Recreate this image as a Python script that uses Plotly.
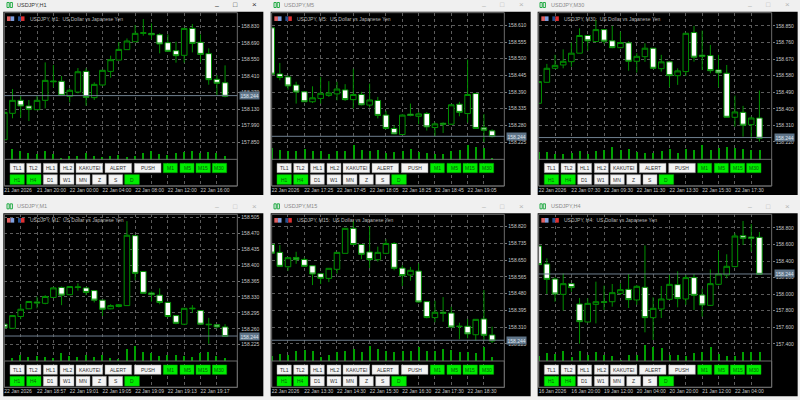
import plotly.graph_objects as go

BID = 158.244

# ---------- data ----------
H1_OPEN = [157.871,158.094,158.204,158.156,158.125,158.204,158.368,158.365,158.238,158.274,158.449,158.227,158.334,158.449,158.545,158.633,158.700,158.771,158.771,158.759,158.692,158.624,158.585,158.813,158.695,158.599,158.382,158.353]
H1_HIGH = [158.102,158.300,158.249,158.207,158.241,158.525,158.503,158.410,158.305,158.477,158.475,158.356,158.458,158.582,158.697,158.728,158.841,158.892,158.855,158.771,158.762,158.700,158.813,158.850,158.762,158.644,158.418,158.500]
H1_LOW = [157.871,158.052,158.057,158.029,158.125,158.136,158.314,158.243,158.187,158.263,158.159,158.207,158.325,158.396,158.545,158.630,158.700,158.751,158.720,158.602,158.616,158.523,158.523,158.610,158.525,158.336,158.241,158.229]
H1_CLOSE = [158.102,158.204,158.156,158.128,158.204,158.373,158.362,158.246,158.289,158.446,158.229,158.339,158.458,158.548,158.635,158.706,158.771,158.776,158.759,158.681,158.619,158.582,158.813,158.686,158.593,158.379,158.348,158.238]
H1_VOL = [0,32,25,20,18,25,16,5,10,12,20,12,8,10,15,8,12,20,25,18,15,20,22,25,20,22,20,10]
H1_TICKS = [158.830,158.690,158.550,158.410,158.270,158.130,157.990,157.850]
H1_DATES = ["21 Jan 2026","21 Jan 20:00","22 Jan 00:00","22 Jan 04:00","22 Jan 08:00","22 Jan 12:00","22 Jan 16:00"]

M5_OPEN = [158.602,158.450,158.440,158.413,158.391,158.358,158.369,158.379,158.384,158.397,158.365,158.382,158.347,158.362,158.314,158.270,158.250,158.317,158.310,158.319,158.273,158.287,158.284,158.350,158.319,158.385,158.272,158.262]
M5_HIGH = [158.602,158.486,158.445,158.424,158.391,158.409,158.440,158.426,158.424,158.416,158.467,158.391,158.418,158.374,158.328,158.280,158.317,158.352,158.324,158.324,158.290,158.290,158.350,158.358,158.497,158.387,158.317,158.267]
M5_LOW = [158.449,158.429,158.398,158.352,158.358,158.354,158.352,158.374,158.363,158.361,158.336,158.346,158.339,158.303,158.267,158.251,158.249,158.310,158.284,158.263,158.243,158.255,158.281,158.310,158.289,158.268,158.225,158.240]
M5_CLOSE = [158.449,158.438,158.410,158.390,158.358,158.371,158.386,158.387,158.400,158.365,158.382,158.348,158.364,158.313,158.270,158.252,158.314,158.313,158.318,158.275,158.285,158.284,158.348,158.323,158.382,158.270,158.264,158.243]
M5_VOL = [35,30,25,25,33,25,25,18,25,26,45,28,26,28,20,22,26,32,22,20,18,16,25,28,43,38,35,3]
M5_TICKS = [158.610,158.555,158.500,158.445,158.390,158.335,158.280,158.225]
M5_DATES = ["22 Jan 2026","22 Jan 17:25","22 Jan 17:45","22 Jan 18:05","22 Jan 18:25","22 Jan 18:45","22 Jan 19:05"]

M30_OPEN = [158.430,158.544,158.620,158.638,158.656,158.702,158.798,158.765,158.830,158.769,158.732,158.758,158.658,158.683,158.729,158.618,158.655,158.580,158.602,158.814,158.691,158.689,158.611,158.593,158.354,158.381,158.314,158.350]
M30_HIGH = [158.548,158.644,158.693,158.723,158.760,158.837,158.798,158.883,158.832,158.850,158.819,158.767,158.702,158.756,158.729,158.693,158.655,158.620,158.810,158.850,158.825,158.747,158.693,158.638,158.472,158.416,158.358,158.499]
M30_LOW = [158.430,158.542,158.618,158.620,158.629,158.702,158.716,158.765,158.752,158.729,158.729,158.607,158.597,158.655,158.617,158.602,158.517,158.530,158.579,158.656,158.611,158.593,158.517,158.352,158.303,158.249,158.238,158.222]
M30_CLOSE = [158.548,158.620,158.636,158.658,158.702,158.798,158.769,158.830,158.767,158.732,158.760,158.658,158.685,158.729,158.620,158.655,158.580,158.606,158.810,158.680,158.685,158.607,158.595,158.354,158.383,158.311,158.350,158.240]
M30_VOL = [22,22,17,18,20,26,18,25,30,37,30,32,23,20,20,25,32,20,33,28,45,30,35,38,35,32,28,30]
M30_TICKS = [158.850,158.760,158.670,158.580,158.490,158.400,158.310,158.220]
M30_DATES = ["22 Jan 2026","22 Jan 07:30","22 Jan 09:30","22 Jan 11:30","22 Jan 13:30","22 Jan 15:30","22 Jan 17:30"]

M1_OPEN = [158.270,158.261,158.287,158.304,158.319,158.316,158.329,158.351,158.335,158.351,158.350,158.344,158.323,158.304,158.309,158.311,158.465,158.386,158.339,158.334,158.318,158.289,158.270,158.304,158.300,158.270,158.269,158.264]
M1_HIGH = [158.270,158.290,158.314,158.320,158.331,158.334,158.351,158.353,158.354,158.360,158.351,158.345,158.323,158.314,158.314,158.497,158.466,158.386,158.342,158.349,158.320,158.289,158.305,158.312,158.301,158.284,158.270,158.270]
M1_LOW = [158.262,158.260,158.281,158.304,158.305,158.314,158.328,158.312,158.334,158.344,158.334,158.318,158.288,158.303,158.307,158.311,158.367,158.337,158.320,158.314,158.285,158.270,158.268,158.295,158.269,158.227,158.261,158.243]
M1_CLOSE = [158.262,158.289,158.303,158.320,158.317,158.331,158.350,158.334,158.353,158.352,158.340,158.323,158.303,158.311,158.313,158.466,158.382,158.338,158.335,158.318,158.287,158.272,158.305,158.305,158.270,158.269,158.264,158.243]
M1_VOL = [0,8,18,12,14,12,8,24,14,10,18,12,16,8,4,34,45,26,24,15,18,17,15,12,22,26,15,8]
M1_TICKS = [158.505,158.470,158.435,158.400,158.365,158.330,158.295,158.260,158.225]
M1_DATES = ["22 Jan 2026","22 Jan 18:57","22 Jan 19:01","22 Jan 19:05","22 Jan 19:09","22 Jan 19:13","22 Jan 19:17"]

M15_OPEN = [158.730,158.690,158.617,158.664,158.654,158.622,158.582,158.558,158.604,158.685,158.812,158.730,158.692,158.653,158.685,158.735,158.610,158.575,158.595,158.440,158.359,158.386,158.382,158.313,158.315,158.272,158.352,158.271]
M15_HIGH = [158.730,158.727,158.664,158.693,158.664,158.622,158.582,158.609,158.690,158.812,158.850,158.730,158.823,158.719,158.756,158.742,158.624,158.616,158.634,158.440,158.445,158.463,158.414,158.333,158.352,158.350,158.499,158.313]
M15_LOW = [158.686,158.617,158.597,158.632,158.616,158.524,158.529,158.539,158.582,158.685,158.729,158.656,158.610,158.643,158.681,158.599,158.519,158.546,158.435,158.355,158.335,158.338,158.308,158.249,158.254,158.242,158.242,158.230]
M15_CLOSE = [158.686,158.619,158.663,158.653,158.619,158.580,158.558,158.609,158.690,158.812,158.730,158.680,158.653,158.690,158.735,158.609,158.572,158.599,158.438,158.359,158.386,158.381,158.311,158.315,158.276,158.350,158.269,158.240]
M15_VOL = [15,20,17,30,33,28,12,17,27,30,35,25,45,36,28,25,28,30,40,30,28,35,33,25,27,23,42,12]
M15_TICKS = [158.820,158.735,158.650,158.565,158.480,158.395,158.310,158.225]
M15_DATES = ["22 Jan 2026","22 Jan 13:30","22 Jan 14:30","22 Jan 15:30","22 Jan 16:30","22 Jan 17:30","22 Jan 18:30"]

H4_OPEN = [158.582,158.365,158.183,157.998,158.127,157.881,157.664,157.877,157.909,157.909,158.010,158.058,157.930,158.083,157.716,157.821,157.938,158.115,157.942,158.200,157.990,157.865,158.119,158.232,158.333,158.707,158.691,158.687]
H4_HIGH = [158.582,158.433,158.204,158.252,158.131,157.954,157.950,158.151,158.103,158.123,158.131,158.244,158.111,158.590,157.962,158.099,158.232,158.276,158.232,158.244,158.067,158.300,158.526,158.482,158.736,158.885,158.848,158.752]
H4_LOW = [158.357,158.002,157.909,157.801,158.030,157.402,157.660,157.647,157.809,157.849,157.990,157.833,157.869,157.539,157.446,157.712,157.930,157.841,157.869,157.809,157.728,157.857,158.107,158.192,158.325,158.594,158.514,158.232]
H4_CLOSE = [158.357,158.179,158.002,158.127,158.079,157.668,157.889,157.909,157.901,158.018,158.054,157.934,158.095,157.716,157.829,157.942,158.119,157.946,158.200,157.986,157.869,158.127,158.244,158.337,158.703,158.675,158.675,158.240]
H4_VOL = [15,24,20,30,10,28,18,26,18,14,2,17,18,47,42,38,17,18,15,23,25,42,20,15,15,25,27,27]
H4_TICKS = [158.800,158.600,158.400,158.200,158.000,157.800,157.600,157.400]
H4_DATES = ["16 Jan 2026","16 Jan 20:00","19 Jan 12:00","20 Jan 04:00","20 Jan 20:00","21 Jan 12:00","22 Jan 04:00"]

TL_BUTTONS_1 = ["TL1","TL2","HL1","HL2","KAKUTEI","ALERT","PUSH","M1","M5","M15","M30"]
TL_BUTTONS_2 = ["H1","H4","D1","W1","MN","Z","S","D"]
GREEN_BUTTONS = {"M1","M5","M15","M30","H1","H4","D"}

# ---------- layout / style ----------
FONT = "Liberation Sans"
GREEN = "#009000"
GRID = "#5c5c5c"
Z = 3.0   # geometry below measured on a 3x scale

WINDOWS = [
    dict(tf="H1", sym="USDJPY,H1", d=(H1_OPEN,H1_HIGH,H1_LOW,H1_CLOSE,H1_VOL,H1_TICKS,H1_DATES), wx=0, fl=13, fr=712, row=0, yr=(157.479,158.946), active=True),
    dict(tf="M5", sym="USDJPY,M5", d=(M5_OPEN,M5_HIGH,M5_LOW,M5_CLOSE,M5_VOL,M5_TICKS,M5_DATES), wx=267, fl=14, fr=712, row=0, yr=(158.080,158.652), active=False),
    dict(tf="M30", sym="USDJPY,M30", d=(M30_OPEN,M30_HIGH,M30_LOW,M30_CLOSE,M30_VOL,M30_TICKS,M30_DATES), wx=533, fl=17, fr=716, row=0, yr=(157.981,158.922), active=False),
    dict(tf="M1", sym="USDJPY,M1", d=(M1_OPEN,M1_HIGH,M1_LOW,M1_CLOSE,M1_VOL,M1_TICKS,M1_DATES), wx=0, fl=13, fr=712, row=1, yr=(158.131,158.512), active=False),
    dict(tf="M15", sym="USDJPY,M15", d=(M15_OPEN,M15_HIGH,M15_LOW,M15_CLOSE,M15_VOL,M15_TICKS,M15_DATES), wx=267, fl=14, fr=712, row=1, yr=(158.005,158.883), active=False),
    dict(tf="H4", sym="USDJPY,H4", d=(H4_OPEN,H4_HIGH,H4_LOW,H4_CLOSE,H4_VOL,H4_TICKS,H4_DATES), wx=533, fl=17, fr=716, row=1, yr=(156.874,158.965), active=False),
]

def px(x): return x / 800.0
def py(y): return 1 - y / 400.0

fig = go.Figure()
shapes, annos, layout = [], [], {}

def rect(x0, y0, x1, y1, fill=None, line=None, lw=1, layer="above"):
    shapes.append(dict(type="rect", xref="paper", yref="paper", x0=px(x0), x1=px(x1), y0=py(y1), y1=py(y0),
                       fillcolor=fill if fill else "rgba(0,0,0,0)",
                       line=dict(color=line if line else "rgba(0,0,0,0)", width=lw if line else 0), layer=layer))

def text(x, y, s, size=5, color="#222", anchor="center"):
    annos.append(dict(xref="paper", yref="paper", x=px(x), y=py(y), text=s, showarrow=False, xanchor=anchor, yanchor="middle",
                      font=dict(family=FONT, size=size, color=color)))

BTN1_X = [(30,73),(80,123),(130,172),(180,222),(228,308),(315,395),(403,483),(490,532),(540,582),(588,631),(637,680)]
BTN2_X = [(30,73),(80,123),(130,172),(180,222),(228,270),(277,319),(326,368),(374,418)]

for i, w in enumerate(WINDOWS):
    o, h, l, c, v, ticks, dates = w["d"]
    n = i + 1
    sx = "" if n == 1 else str(n)
    volname = f"y{n+6}"
    wx = w["wx"]
    y0 = 0 if w["row"] == 0 else 200
    zo = 0 if w["row"] == 0 else 5
    top = y0 + (38 if w["row"] == 0 else 43) / Z
    fbot = y0 + (478 + zo) / Z
    abot = y0 + (558 + (4 if zo else 0)) / Z
    fl = wx + w["fl"] / Z
    fr = wx + w["fr"] / Z
    blackr = wx + (w["fl"] + 777) / Z
    rect(fl - 1, top - 1, blackr, abot + 9, fill="#000000", layer="below")

    xs = list(range(len(o)))
    fig.add_trace(go.Candlestick(x=xs, open=o, high=h, low=l, close=c,
                                 increasing=dict(line=dict(color=GREEN, width=1), fillcolor="#000000"),
                                 decreasing=dict(line=dict(color=GREEN, width=1), fillcolor="#ffffff"),
                                 whiskerwidth=0, xaxis=f"x{sx}", yaxis=f"y{sx}", showlegend=False))
    fig.add_trace(go.Bar(x=xs, y=v, width=0.15, marker=dict(color="#00a000", line=dict(width=0)),
                         xaxis=f"x{sx}", yaxis=volname, showlegend=False))

    grid_x = list(range(0, len(o), 2))
    labels = [dates[k // 4] if k % 4 == 0 else "" for k in grid_x]
    layout[f"xaxis{sx}"] = dict(domain=[px(fl), px(fr)], range=[0, 28.5], anchor=f"y{sx}",
                                tickvals=grid_x, ticktext=labels, ticks="", tickangle=0,
                                tickfont=dict(family=FONT, size=5, color="#c8c8c8"),
                                ticklabelposition="outside right", showgrid=True, gridcolor=GRID, griddash="dot", gridwidth=1,
                                zeroline=False, showline=False, rangeslider=dict(visible=False))
    layout[f"yaxis{sx}"] = dict(domain=[py(abot), py(top)], range=list(w["yr"]), anchor=f"x{sx}", side="right",
                                tickvals=ticks, ticktext=[f"{t:.3f}" for t in ticks], ticks="outside", ticklen=2, tickcolor="#777",
                                tickfont=dict(family=FONT, size=5, color="#c8c8c8"), showgrid=True, gridcolor=GRID,
                                griddash="dot", gridwidth=1, zeroline=False, showline=False)
    # volume axis overlays the price axis; its zero sits on the bottom of the price frame
    layout[f"yaxis{n+6}"] = dict(overlaying=f"y{sx}", range=[-(abot - fbot) * Z, (fbot - top) * Z], anchor=f"x{sx}",
                                 visible=False, fixedrange=True, showgrid=False, zeroline=False)

    rect(fl, top, fr, abot, line="#6a6a6a", lw=1)
    rect(fl, fbot, fr, abot, line="#6a6a6a", lw=1)

    shapes.append(dict(type="line", xref="paper", yref=f"y{sx}", x0=px(fl), x1=px(fr), y0=BID, y1=BID, line=dict(color="#6f7f8f", width=1), layer="above"))
    annos.append(dict(xref="paper", yref=f"y{sx}", x=px(fr + 2), y=BID, text=f"{BID:.3f}", showarrow=False, xanchor="left", yanchor="middle",
                      bgcolor="#5f7488", borderpad=0.5, font=dict(family=FONT, size=5, color="#dfe6ee")))

    tcol = "#333333" if w["active"] else "#8a8a8a"
    ctl = "#333333" if w["active"] else "#b5b5b5"
    tity = y0 + (15 if w["row"] == 0 else 19) / Z
    text(wx + (45 if wx != 533 else 48) / Z, tity, w["sym"], size=5.5, color=tcol, anchor="left")
    ix = wx + 7
    rect(ix, tity - 2.5, ix + 2.2, tity + 2.5, line="#22aa44", lw=1)
    rect(ix + 3.2, tity - 2.5, ix + 5.4, tity + 2.5, line="#22aa44", lw=1)
    text(wx + 652 / Z, tity + 0.5, "–", size=7, color=ctl)
    text(wx + 707 / Z, tity, "□", size=7, color=ctl)
    text(wx + 763 / Z, tity, "×", size=8, color=ctl)

    hy = y0 + (56 if w["row"] == 0 else 61) / Z
    lx = fl + 8 / Z
    rect(lx, hy - 2.3, lx + 3.6, hy + 2.3, fill="#e06060")
    rect(lx + 3.6, hy - 2.3, lx + 7.2, hy + 2.3, fill="#7fa0e0")
    rect(lx + 11, hy - 2.3, lx + 14, hy + 2.3, fill="#24508f")
    rect(lx + 14, hy - 2.3, lx + 17.5, hy + 2.3, fill="#e03030")
    text(fl + 70 / Z, hy, f"USDJPY, {w['tf']}:  US Dollar vs Japanese Yen", size=5, color="#b8b8b8", anchor="left")

    off = w["fl"] - 13
    if w["fl"] == 14:
        off = 0
    for (labels_row, xspan, by0, by1) in ((TL_BUTTONS_1, BTN1_X, 490, 518), (TL_BUTTONS_2, BTN2_X, 524, 553)):
        for name, (bx0, bx1) in zip(labels_row, xspan):
            on = name in GREEN_BUTTONS
            x0b = wx + (bx0 + off) / Z
            x1b = wx + (bx1 + off) / Z
            yb0 = y0 + (by0 + zo) / Z
            yb1 = y0 + (by1 + zo) / Z
            rect(x0b, yb0, x1b, yb1, fill="#00ee00" if on else "#f4f4f4", line="#00b000" if on else "#9a9a9a", lw=0.5)
            text((x0b + x1b) / 2, (yb0 + yb1) / 2, name, size=5, color="#0a5a0a" if on else "#333333")

fig.update_layout(width=800, height=400, margin=dict(l=0, r=0, t=0, b=0), autosize=False,
                  paper_bgcolor="#f0f0f0", plot_bgcolor="rgba(0,0,0,0)", showlegend=False, bargap=0,
                  boxgap=0.32, boxgroupgap=0, shapes=shapes, annotations=annos, **layout)
fig.write_html("out.html", config={"displayModeBar": False}, post_script="document.body.style.margin='0';")
